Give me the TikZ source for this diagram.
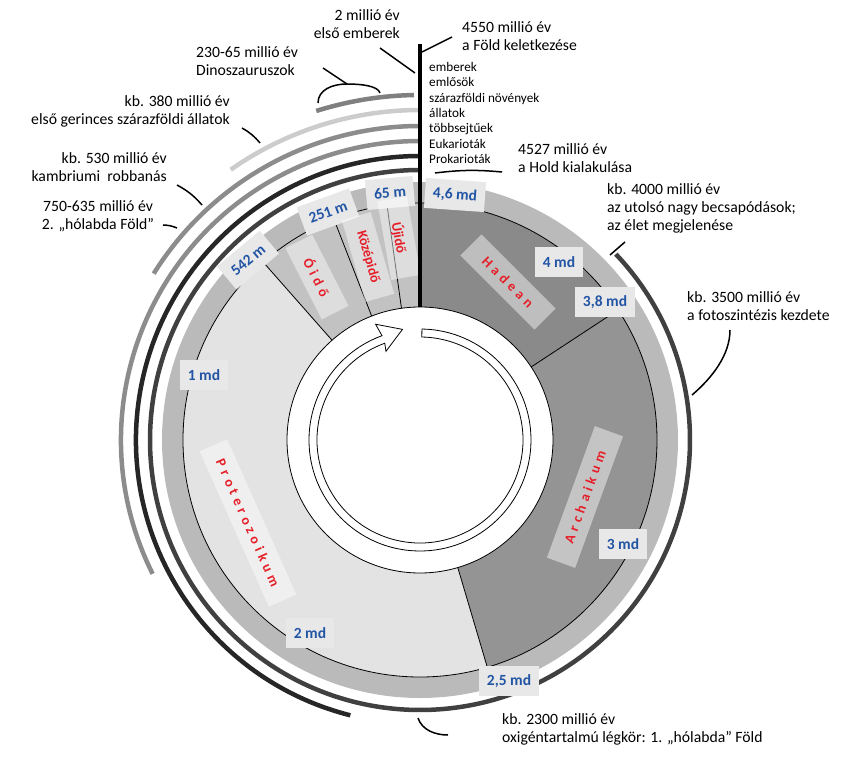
\documentclass[tikz,border=0pt]{standalone}
\usepackage{fontspec}
\setmainfont{Carlito}
\definecolor{mdblue}{RGB}{35,85,165}
\definecolor{erared}{RGB}{230,30,40}
\tikzset{
	note/.style = {inner sep = 0pt, font = \fontsize{15.7}{18}\selectfont},
	agebox/.style = {fill = black!9, text = mdblue, inner xsep = 8pt, minimum height = 30pt, font = \fontsize{15.5}{18}\selectfont\bfseries},
	erabox/.style = {fill = white, fill opacity = 0.45, text opacity = 1, text = erared, minimum height = 30pt, font = \fontsize{14}{16}\selectfont\bfseries},
	spread/.style = {font = \fontsize{14}{16}\selectfont\bfseries\addfontfeature{LetterSpace = 8}},
	timearc/.style = {line width = 4.5pt}
}

\begin{document}
\begin{tikzpicture}[x = 1pt, y = 1pt]
	\useasboundingbox (-420,-328) rectangle (428,440);

	\fill [black!27] (0,0) circle (258);
	\fill [black!46] (0,0) -- (90:237) arc [start angle = 90, end angle = 33.3, radius = 237] -- cycle;
	\fill [black!42] (0,0) -- (33.3:237) arc [start angle = 33.3, end angle = -73.5, radius = 237] -- cycle;
	\fill [black!11] (0,0) -- (-73.5:237) arc [start angle = -73.5, end angle = -228.6, radius = 237] -- cycle;
	\fill [black!24] (0,0) -- (131.4:237) arc [start angle = 131.4, end angle = 90, radius = 237] -- cycle;
	\draw [line width = 0.8pt] (0,0) circle (237);
	\foreach \a in {33.3, -73.5, 131.4, 111.3, 98}
		\draw [line width = 0.8pt] (\a:133) -- (\a:237);
	\draw [line width = 0.8pt, fill = white] (0,0) circle (133);
	\draw [line width = 0.8pt, fill = white] (89:111) arc [start angle = 89, end angle = -250, radius = 111] -- (-249:124) -- (-261:112) -- (-249:95) -- (-250:103) arc [start angle = -250, end angle = 89, radius = 103] -- cycle;

	\begin{scope}[timearc]
		\draw [black!50] (107.5:345) arc [start angle = 107.5, end angle = 91, radius = 345];
		\draw [black!20] (125:330) arc [start angle = 125, end angle = 90, radius = 330];
		\draw [black!45] (148:314) arc [start angle = 148, end angle = 90, radius = 314];
		\draw [black!45] (206.6:299) arc [start angle = 206.6, end angle = 90, radius = 299];
		\draw [black!85] (255.8:284) arc [start angle = 255.8, end angle = 90, radius = 284];
		\draw [black!75] (43.5:270) arc [start angle = 43.5, end angle = -270, radius = 270];
	\end{scope}

	\node [agebox, rotate = -4] (md46) at (35,245) {4,6 md};
	\node [agebox, rotate = 5] (m65) at (-30,247) {65 m};
	\node [agebox, rotate = 20] (m251) at (-92,228) {251 m};
	\node [agebox, rotate = 40] (m542) at (-172,180) {542 m};
	\node [agebox] (md4) at (139,178) {4 md};
	\node [agebox] (md38) at (185,138) {3,8 md};
	\node [agebox] (md3) at (203,-104) {3 md};
	\node [agebox] (md25) at (89,-241) {2,5 md};
	\node [agebox] (md2) at (-110,-193) {2 md};
	\node [agebox] (md1) at (-216,65) {1 md};

	\node [erabox, spread, rotate = -63, minimum width = 80pt] (oido) at (-103,163) {Ó i d ő};
	\node [erabox, rotate = -74, minimum width = 85pt] (kozepido) at (-52,183) {Középidő};
	\node [erabox, rotate = -80, minimum width = 80pt] (ujido) at (-21,202) {Újidő};
	\node [erabox, spread, rotate = -45, minimum width = 105pt] (hadean) at (88,158) {H a d e a n};
	\node [erabox, spread, rotate = 70, minimum width = 140pt] (archaikum) at (165,-57) {A r c h a i k u m};
	\node [erabox, spread, rotate = -66, minimum width = 170pt] (proterozoikum) at (-172,-83) {P r o t e r o z o i k u m};

	\draw [line width = 3.5pt] (0,396) -- (0,133);

	\node [note, anchor = east, align = right] (humans) at (-20,416) {2 millió év\\első emberek};
	\node [note, anchor = west, align = left] (earth) at (42,404) {4550 millió év\\a Föld keletkezése};
	\node [note, anchor = west, align = left] (dinos) at (-224,379) {230-65 millió év\\Dinoszauruszok};
	\node [note, anchor = east, align = right] (landanimals) at (-190,329) {kb. 380 millió év\\első gerinces szárazföldi állatok};
	\node [note, anchor = east, align = right] (cambrian) at (-253,273) {kb. 530 millió év\\kambriumi~ robbanás};
	\node [note, align = center] (snowball) at (-322,224) {750-635 millió év\\2. „hólabda Föld”};
	\node [note, anchor = west, align = left, font = \fontsize{13.2}{15.4}\selectfont] (lifeforms) at (9,327) {emberek\\emlősök\\szárazföldi növények\\állatok\\többsejtűek\\Eukarioták\\Prokarioták};
	\node [note, anchor = west, align = left] (moon) at (98,282) {4527 millió év\\a Hold kialakulása};
	\node [note, anchor = west, align = left] (impacts) at (187,232) {kb. 4000 millió év\\az utolsó nagy becsapódások;\\az élet megjelenése};
	\node [note, anchor = west, align = left] (photo) at (267,134) {kb. 3500 millió év\\a fotoszintézis kezdete};
	\node [note, anchor = west, align = left] (oxygen) at (82,-289) {kb. 2300 millió év\\oxigéntartalmú légkör: 1. „hólabda” Föld};

	\begin{scope}[line width = 1.5pt]
		\draw (-40,392) -- (-5,367);
		\draw (2,388) -- (32,403);
		\draw (-102,337) .. controls (-102,350) and (-88,356) .. (-73,356) .. controls (-58,356) and (-42,354) .. (-40,347);
		\draw (-73,356) -- (-97,372);
		\draw (-178,312) to [bend left = 10] (-160,297);
		\draw (-243,255) to [bend left = 10] (-218,235);
		\draw (-257,215) to [bend left = 10] (-243,212);
		\draw (15,267) to [bend left = 6] (82,268);
		\draw (190,185) -- (205,198);
		\draw (272,45) .. controls (292,62) and (310,85) .. (310,110);
		\draw (-2,-278) .. controls (2,-290) and (15,-295) .. (28,-295);
	\end{scope}
\end{tikzpicture}
\end{document}
